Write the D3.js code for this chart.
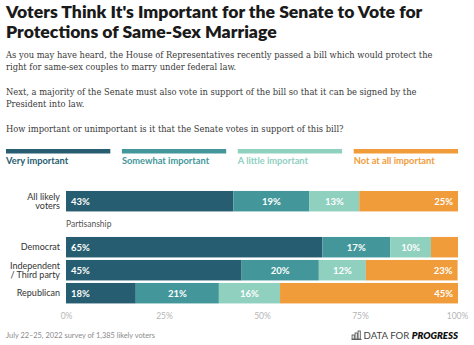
<!DOCTYPE html>
<html><head><meta charset="utf-8">
<script src="https://cdn.jsdelivr.net/npm/d3@7"></script>
<style>
html,body{margin:0;padding:0;background:#fff;}
svg{display:block;}
</style></head>
<body>
<svg id="chart" width="474" height="345"></svg>
<script>
const titleLines = ["Voters Think It's Important for the Senate to Vote for", "Protections of Same-Sex Marriage"];
const subtitleParas = [
  ["As you may have heard, the House of Representatives recently passed a bill which would protect the", "right for same-sex couples to marry under federal law."],
  ["Next, a majority of the Senate must also vote in support of the bill so that it can be signed by the", "President into law."],
  ["How important or unimportant is it that the Senate votes in support of this bill?"]
];
const responses = ["Very important", "Somewhat important", "A little important", "Not at all important"];
const colors = ["#275d70", "#43979a", "#8fd0bf", "#f09c3a"];
const rows = ["All likely voters", "Partisanship", "Democrat", "Independent / Third party", "Republican"];
const rowLabels = [["All likely", "voters"], null, ["Democrat"], ["Independent", "/ Third party"], ["Republican"]];
const groups = ["All likely voters", "Democrat", "Independent / Third party", "Republican"];
const veryImportant     = [42.7, 65.4, 44.8, 17.8];
const somewhatImportant = [19.4, 17.3, 19.7, 21.2];
const littleImportant   = [12.7, 10.4, 12.0, 15.6];
const notImportant      = [25.2,  6.9, 23.4, 45.4];
const tickValues = [0, 25, 50, 75, 100];
const footnote = "July 22–25, 2022 survey of 1,385 likely voters";

const svg = d3.select("#chart");
const sans = "Lato, 'Open Sans', sans-serif";
const serif = "'DejaVu Serif Condensed', 'DejaVu Serif', serif";

// Title
svg.append("g").selectAll("text").data(titleLines).join("text")
  .attr("x", 6).attr("y", (d, i) => 18 + i * 20)
  .attr("font-family", sans).attr("font-weight", 800).attr("font-size", 17.6)
  .attr("fill", "#1a1a1a").text(d => d);

// Subtitle: fit the longest line to the reference width
const probe = svg.append("text").attr("font-family", serif).attr("font-size", 10).text(subtitleParas[0][0]);
const subSize = 10 * 427 / probe.node().getComputedTextLength();
probe.remove();
let yy = 57.5;
const sub = svg.append("g");
subtitleParas.forEach(p => {
  p.forEach(line => {
    sub.append("text").attr("x", 6).attr("y", yy)
      .attr("font-family", serif).attr("font-size", subSize).attr("fill", "#3a3a3a").text(line);
    yy += 12;
  });
  yy += 13;
});

// Data table
const data = groups.map((g, i) => ({
  group: g,
  "Very important": veryImportant[i],
  "Somewhat important": somewhatImportant[i],
  "A little important": littleImportant[i],
  "Not at all important": notImportant[i]
}));
const series = d3.stack().keys(responses)(data);

const x = d3.scaleLinear().domain([0, 100]).range([66, 458]);
const y = d3.scaleBand().domain(rows).range([189.7, 304.7]).paddingInner(0.11).paddingOuter(0.055);
const color = d3.scaleOrdinal().domain(responses).range(colors);

// Legend
const legendX = d3.scaleBand().domain(responses).range([6, 458]).paddingInner(0.1);
const lg = svg.append("g").selectAll("g").data(responses).join("g")
  .attr("transform", d => `translate(${legendX(d)},0)`);
lg.append("rect").attr("y", 149).attr("height", 4.5).attr("width", legendX.bandwidth()).attr("fill", d => color(d));
lg.append("text").attr("y", 163.5).attr("font-family", sans).attr("font-weight", 700)
  .attr("font-size", 9.3).attr("fill", d => color(d)).text(d => d);

// Bars
const sg = svg.append("g").selectAll("g").data(series).join("g").attr("fill", s => color(s.key));
sg.selectAll("rect").data(s => s.map(d => ({d, key: s.key}))).join("rect")
  .attr("x", o => x(o.d[0])).attr("width", o => x(o.d[1]) - x(o.d[0]))
  .attr("y", o => y(o.d.data.group)).attr("height", y.bandwidth());

// Value labels
const lab = svg.append("g").attr("font-family", sans).attr("font-weight", 700).attr("font-size", 9.5).attr("fill", "#fff");
series.forEach((s, si) => {
  s.forEach(d => {
    const v = d[1] - d[0];
    if (v < 8) return;
    let tx, anchor;
    if (si === 0) { tx = x(d[0]) + 5; anchor = "start"; }
    else if (si === series.length - 1) { tx = x(d[1]) - 5; anchor = "end"; }
    else { tx = (x(d[0]) + x(d[1])) / 2; anchor = "middle"; }
    lab.append("text").attr("x", tx).attr("y", y(d.data.group) + y.bandwidth() / 2)
      .attr("dy", "0.35em").attr("text-anchor", anchor).text(Math.round(v) + "%");
  });
});

// Row labels
rows.forEach((r, i) => {
  const cy = y(r) + y.bandwidth() / 2;
  if (!rowLabels[i]) {
    svg.append("text").attr("x", x(0)).attr("y", cy).attr("dy", "0.35em")
      .attr("font-family", sans).attr("font-size", 8.5).attr("fill", "#555").text(r);
    return;
  }
  const lines = rowLabels[i];
  const lh = 9.6;
  lines.forEach((l, j) => {
    svg.append("text").attr("x", 60).attr("y", cy + (j - (lines.length - 1) / 2) * lh)
      .attr("dy", "0.35em").attr("text-anchor", "end")
      .attr("font-family", sans).attr("font-size", 9).attr("fill", "#333").text(l);
  });
});

// Axis
const axis = svg.append("g").attr("transform", "translate(0,316)")
  .call(d3.axisBottom(x).tickValues(tickValues).tickFormat(d => d + "%").tickSize(0).tickPadding(0));
axis.select(".domain").remove();
axis.selectAll("text").attr("font-family", sans).attr("font-size", 8.5).attr("fill", "#b5b5b5").attr("dy", "0.35em");
axis.selectAll(".tick").filter(d => d === 100).select("text").attr("dx", "-1");

// Footnote
svg.append("text").attr("x", 6).attr("y", 338).attr("font-family", sans).attr("font-size", 7.4)
  .attr("fill", "#8a8a8a").text(footnote);

// Logo
const logo = svg.append("text").attr("x", 458).attr("y", 339).attr("text-anchor", "end")
  .attr("font-family", sans).attr("font-size", 9.6).attr("fill", "#444");
logo.append("tspan").text("DATA FOR ");
logo.append("tspan").attr("font-weight", 800).attr("font-style", "italic").attr("fill", "#111").text("PROGRESS");
const bb = logo.node().getBBox();
const icon = svg.append("g").attr("transform", `translate(${bb.x - 12},${331})`)
  .attr("fill", "none").attr("stroke", "#555").attr("stroke-width", 0.9);
[[0.5, 4, 4], [3.5, 2, 6], [6.5, 0, 8]].forEach(([ix, iy, ih]) => {
  icon.append("rect").attr("x", ix).attr("y", iy).attr("width", 2.2).attr("height", ih);
});
icon.append("line").attr("x1", 0).attr("x2", 10).attr("y1", 8.5).attr("y2", 8.5);
</script>
</body></html>
